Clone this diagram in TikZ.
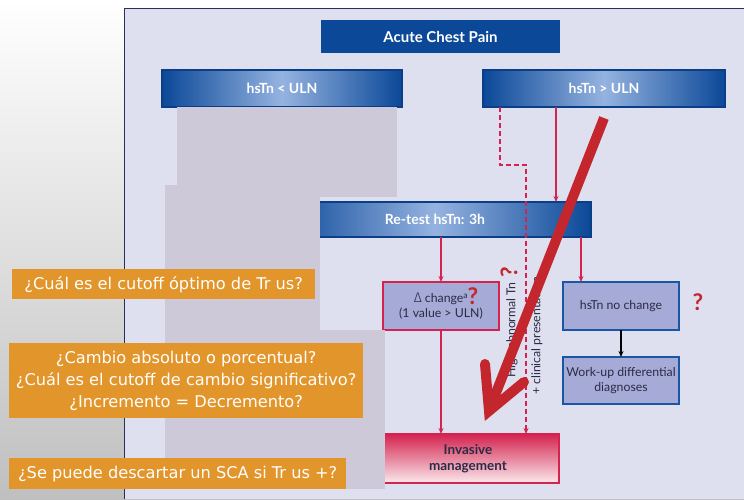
\documentclass[tikz,border=0pt]{standalone}
\usepackage{fontspec}
\setmainfont{Lato}
\newfontfamily\tah{DejaVu Sans}
\newfontfamily\grk{Fira Sans Light}
\usetikzlibrary{arrows.meta,calc}
\definecolor{panel}{HTML}{DFE0EF}
\definecolor{occl}{HTML}{CDC9D9}
\definecolor{navy}{HTML}{0B4898}
\definecolor{navydark}{HTML}{0A3F88}
\definecolor{lightblue}{HTML}{95B3E0}
\definecolor{boxfill}{HTML}{A6AAD6}
\definecolor{crimson}{HTML}{D4234F}
\definecolor{boxblue}{HTML}{1B55A6}
\definecolor{bigred}{HTML}{C4262E}
\definecolor{qorange}{HTML}{E2952A}
\definecolor{txt}{HTML}{2B2B45}
\definecolor{frame}{HTML}{2A2F5A}
\tikzset{
  basebox/.style={anchor=north west, inner sep=0pt, outer sep=0pt, align=center},
  bluebox/.style={basebox, fill=navy, text=white, font=\fontsize{15}{17}\selectfont\bfseries},
  gradbox/.style={basebox, left color=navy, right color=navy, middle color=lightblue,
    draw=navydark, line width=1.5pt, text=white, font=\fontsize{14}{16}\selectfont\bfseries},
  redbox/.style={basebox, fill=boxfill, draw=crimson, line width=2.2pt, text=txt,
    font=\fontsize{12.3}{14.5}\selectfont},
  bbox/.style={basebox, fill=boxfill, draw=boxblue, line width=2.2pt, text=txt,
    font=\fontsize{12.3}{14.5}\selectfont},
  invbox/.style={basebox, top color=crimson, bottom color=white!90!crimson, draw=crimson,
    line width=2.2pt, text=txt, font=\fontsize{13.5}{16}\selectfont\bfseries},
  redarr/.style={draw=crimson, line width=1.5pt, -{Stealth[length=6pt,width=5pt]}},
  dasharr/.style={redarr, dash pattern=on 5pt off 3pt, line width=2.5pt},
  blackarr/.style={draw=black, line width=1.5pt, -{Stealth[length=6pt,width=5pt]}},
  vtext/.style={rotate=90, text=txt, font=\fontsize{12.3}{14}\selectfont, inner sep=0pt},
  qmark/.style={text=bigred, font=\fontsize{23}{25}\selectfont\bfseries, inner sep=0pt},
  obox/.style={fill=qorange, text=white, font=\tah\fontsize{16.2}{22}\selectfont,
    inner sep=0pt, align=center, anchor=north west}
}
\begin{document}
\begin{tikzpicture}[x=1pt,y=-1pt]
\useasboundingbox (0,0) rectangle (744,499);
% background
\shade[top color=white, bottom color=black!25] (0,0) rectangle (744,499);
\fill[panel] (124,8) rectangle (744,499);
\draw[frame, line width=1pt] (124,499) -- (124,8) -- (744,8);

% boxes
\node[bluebox, minimum width=239pt, minimum height=33pt] (acp) at (321,20) {Acute Chest Pain};
\node[gradbox, minimum width=240pt, minimum height=37pt] (lt) at (162,70) {hsTn < ULN};
\node[gradbox, minimum width=242pt, minimum height=37pt] (gt) at (483,70) {hsTn > ULN};
\node[gradbox, minimum width=312pt, minimum height=35pt] (retest) at (279,202) {Re-test hsTn: 3h};
\node[redbox, minimum width=116pt, minimum height=48pt] (dchg) at (383,282)
  {{\grk\fontsize{14}{14}\selectfont Δ} change\textsuperscript{a}\hspace{14pt}\\(1 value > ULN)};
\node[bbox, minimum width=116pt, minimum height=48pt] (nochg) at (563,282) {hsTn no change};
\node[bbox, minimum width=116pt, minimum height=47pt] (work) at (563,357) {Work-up differential\\diagnoses};
\node[invbox, minimum width=182pt, minimum height=49pt] (inv) at (377,434) {Invasive\\management};

% connectors
\draw[redarr] ([xshift=73pt]gt.south west) -- ([xshift=73pt]gt.south west |- retest.north);
\draw[dasharr] ([xshift=17pt]gt.south west) -- ++(0,58) -| ([xshift=58pt]inv.north);
\draw[redarr] (dchg.north |- retest.south) -- (dchg.north);
\draw[redarr] ([xshift=-40pt]nochg.north |- retest.south) -- ([xshift=-40pt]nochg.north);
\draw[redarr] (dchg.south) -- (dchg.south |- inv.north);
\draw[blackarr] (nochg.south) -- (work.north);

% vertical labels and question marks
\node[vtext] (hat) at (512,330) {High abnormal Tn};
\node[vtext] (ccp) at (537,336) {+ clinical presentation};
\node[qmark] (q1) at (473,296) {?};
\node[qmark] (q2) at (698,302) {?};
\node[qmark, rotate=90] (q3) at (509,272) {?};

% grey occluders
\fill[occl] (177,107) rectangle (397,197);
\fill[occl] (165,185) rectangle (320,330);
\fill[occl] (165,330) rectangle (385,489);

% orange question boxes
\node[obox, minimum width=303pt, minimum height=30pt] (o1) at (12,269) {¿Cuál es el cutoff óptimo de Tr us?};
\node[obox, minimum width=354pt, minimum height=75pt] (o2) at (9,343)
  {¿Cambio absoluto o porcentual?\\¿Cuál es el cutoff de cambio significativo?\\¿Incremento = Decremento?};
\node[obox, minimum width=337pt, minimum height=31pt] (o3) at (9,458) {¿Se puede descartar un SCA si Tr us +?};

% big red arrow
\draw[bigred, line width=10pt] (604,118) -- (490,408);
\draw[bigred, line width=10pt, line cap=round, line join=miter] (485,364) -- (489,411) -- (524,382);
\end{tikzpicture}
\end{document}
